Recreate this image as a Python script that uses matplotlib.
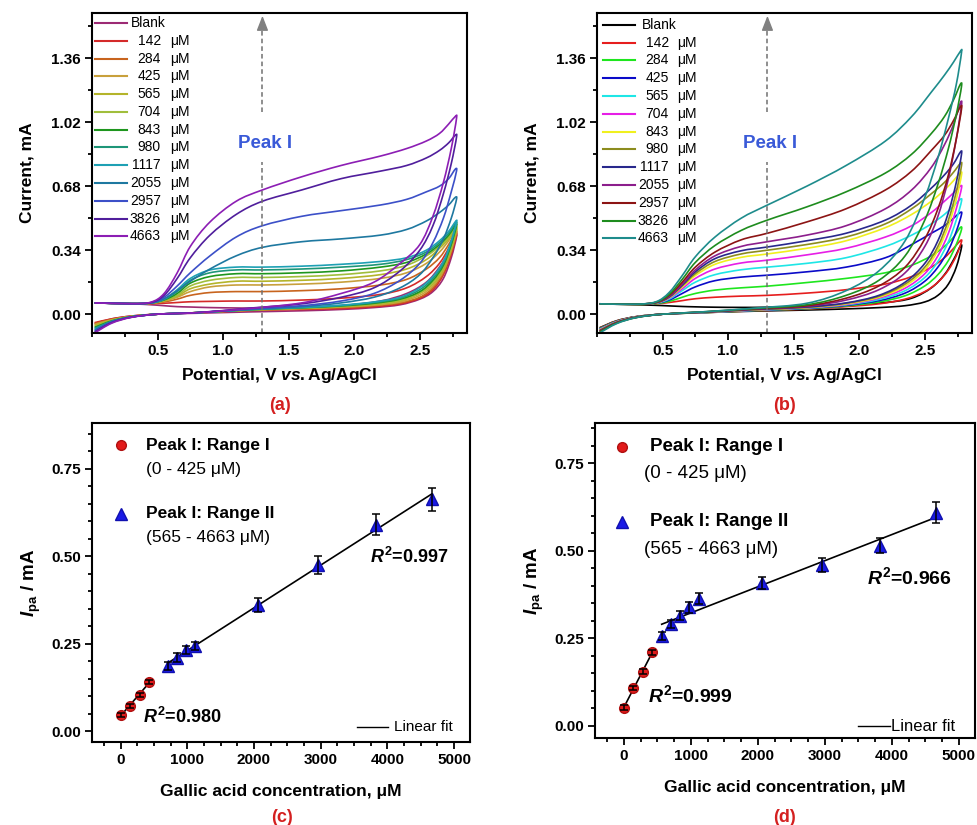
import numpy as np
import matplotlib
matplotlib.use("Agg")
import matplotlib.pyplot as plt
from matplotlib.ticker import MultipleLocator
from matplotlib.path import Path
from matplotlib.patches import PathPatch

plt.rcParams['font.family'] = ['Liberation Sans', 'DejaVu Sans']
plt.rcParams['mathtext.fontset'] = 'custom'
plt.rcParams['mathtext.rm'] = 'Liberation Sans:bold'
plt.rcParams['mathtext.it'] = 'Liberation Sans:italic:bold'
plt.rcParams['mathtext.bf'] = 'Liberation Sans:bold'

# ---------------- data ----------------
conc_labels = ["Blank", "142", "284", "425", "565", "704", "843", "980",
               "1117", "2055", "2957", "3826", "4663"]

E_fwd = [0.02, 0.30, 0.45, 0.55, 0.65, 0.75, 0.90, 1.10, 1.30, 1.60, 1.90, 2.20, 2.40, 2.55, 2.65, 2.72, 2.77]
E_rev = [2.78, 2.74, 2.68, 2.60, 2.50, 2.35, 2.15, 1.90, 1.60, 1.20, 0.80, 0.50, 0.30, 0.15, 0.02]

a_fwd = [
    [0.060, 0.055, 0.050, 0.045, 0.040, 0.038, 0.035, 0.033, 0.032, 0.035, 0.045, 0.070, 0.110, 0.170, 0.250, 0.330, 0.410],
    [0.060, 0.056, 0.056, 0.058, 0.062, 0.066, 0.068, 0.070, 0.070, 0.075, 0.085, 0.105, 0.140, 0.200, 0.270, 0.350, 0.420],
    [0.060, 0.056, 0.057, 0.065, 0.080, 0.100, 0.115, 0.120, 0.120, 0.125, 0.135, 0.155, 0.185, 0.240, 0.300, 0.370, 0.430],
    [0.060, 0.056, 0.058, 0.070, 0.090, 0.120, 0.145, 0.155, 0.155, 0.160, 0.170, 0.190, 0.220, 0.270, 0.330, 0.390, 0.440],
    [0.060, 0.056, 0.058, 0.072, 0.095, 0.135, 0.160, 0.175, 0.175, 0.180, 0.190, 0.210, 0.240, 0.290, 0.350, 0.400, 0.450],
    [0.060, 0.056, 0.059, 0.075, 0.100, 0.150, 0.180, 0.195, 0.195, 0.200, 0.210, 0.230, 0.260, 0.310, 0.360, 0.410, 0.460],
    [0.060, 0.056, 0.060, 0.076, 0.110, 0.165, 0.200, 0.215, 0.215, 0.220, 0.230, 0.250, 0.275, 0.320, 0.370, 0.420, 0.470],
    [0.060, 0.056, 0.060, 0.078, 0.120, 0.180, 0.220, 0.235, 0.235, 0.240, 0.250, 0.265, 0.290, 0.330, 0.380, 0.430, 0.480],
    [0.060, 0.056, 0.060, 0.080, 0.130, 0.190, 0.235, 0.250, 0.250, 0.255, 0.265, 0.280, 0.300, 0.340, 0.390, 0.440, 0.490],
    [0.060, 0.056, 0.060, 0.082, 0.125, 0.175, 0.240, 0.310, 0.355, 0.385, 0.400, 0.420, 0.450, 0.495, 0.540, 0.580, 0.620],
    [0.060, 0.056, 0.060, 0.090, 0.150, 0.220, 0.310, 0.410, 0.470, 0.520, 0.550, 0.580, 0.610, 0.650, 0.680, 0.720, 0.770],
    [0.060, 0.056, 0.062, 0.100, 0.190, 0.300, 0.420, 0.530, 0.600, 0.660, 0.720, 0.760, 0.790, 0.830, 0.870, 0.910, 0.950],
    [0.060, 0.056, 0.064, 0.110, 0.220, 0.360, 0.490, 0.600, 0.660, 0.730, 0.790, 0.840, 0.880, 0.920, 0.960, 1.010, 1.050],
]
a_rev = [
    [0.410, 0.300, 0.190, 0.120, 0.080, 0.050, 0.035, 0.025, 0.018, 0.012, 0.005, 0.000, -0.010, -0.025, -0.050],
    [0.420, 0.320, 0.210, 0.130, 0.085, 0.055, 0.040, 0.030, 0.025, 0.020, 0.008, 0.000, -0.010, -0.025, -0.045],
    [0.430, 0.330, 0.220, 0.140, 0.090, 0.060, 0.045, 0.035, 0.028, 0.020, 0.008, 0.000, -0.012, -0.028, -0.050],
    [0.440, 0.340, 0.230, 0.150, 0.100, 0.065, 0.048, 0.038, 0.030, 0.022, 0.008, 0.000, -0.012, -0.030, -0.055],
    [0.450, 0.350, 0.240, 0.160, 0.110, 0.070, 0.052, 0.040, 0.032, 0.022, 0.008, 0.000, -0.013, -0.032, -0.060],
    [0.460, 0.360, 0.250, 0.170, 0.115, 0.075, 0.055, 0.042, 0.033, 0.023, 0.008, 0.000, -0.013, -0.034, -0.065],
    [0.470, 0.370, 0.260, 0.180, 0.120, 0.080, 0.058, 0.044, 0.034, 0.024, 0.008, 0.000, -0.014, -0.036, -0.070],
    [0.480, 0.380, 0.270, 0.190, 0.130, 0.085, 0.062, 0.046, 0.035, 0.024, 0.008, 0.000, -0.014, -0.038, -0.075],
    [0.490, 0.390, 0.280, 0.200, 0.140, 0.090, 0.065, 0.048, 0.036, 0.025, 0.008, 0.000, -0.015, -0.040, -0.080],
    [0.610, 0.510, 0.400, 0.300, 0.210, 0.140, 0.090, 0.060, 0.040, 0.025, 0.008, 0.000, -0.015, -0.040, -0.085],
    [0.760, 0.650, 0.510, 0.380, 0.270, 0.180, 0.110, 0.070, 0.045, 0.028, 0.008, 0.000, -0.016, -0.042, -0.090],
    [0.940, 0.800, 0.640, 0.470, 0.340, 0.230, 0.140, 0.090, 0.055, 0.032, 0.008, 0.000, -0.016, -0.045, -0.095],
    [1.040, 0.880, 0.700, 0.520, 0.370, 0.270, 0.170, 0.110, 0.060, 0.030, 0.008, 0.000, -0.017, -0.048, -0.100],
]

b_fwd = [
    [0.055, 0.050, 0.047, 0.044, 0.041, 0.039, 0.037, 0.036, 0.037, 0.042, 0.050, 0.062, 0.085, 0.140, 0.210, 0.290, 0.360],
    [0.055, 0.052, 0.055, 0.062, 0.072, 0.082, 0.090, 0.096, 0.100, 0.112, 0.130, 0.160, 0.200, 0.250, 0.300, 0.350, 0.390],
    [0.055, 0.052, 0.056, 0.068, 0.090, 0.110, 0.128, 0.140, 0.149, 0.168, 0.190, 0.220, 0.260, 0.310, 0.360, 0.410, 0.460],
    [0.055, 0.053, 0.058, 0.075, 0.110, 0.145, 0.178, 0.197, 0.207, 0.225, 0.250, 0.300, 0.370, 0.430, 0.470, 0.510, 0.540],
    [0.055, 0.053, 0.059, 0.080, 0.125, 0.170, 0.210, 0.236, 0.250, 0.270, 0.300, 0.360, 0.420, 0.480, 0.530, 0.575, 0.610],
    [0.055, 0.053, 0.060, 0.085, 0.135, 0.190, 0.240, 0.272, 0.287, 0.315, 0.350, 0.410, 0.470, 0.540, 0.600, 0.645, 0.680],
    [0.055, 0.053, 0.060, 0.088, 0.145, 0.205, 0.265, 0.302, 0.320, 0.350, 0.390, 0.460, 0.530, 0.600, 0.660, 0.710, 0.750],
    [0.055, 0.053, 0.061, 0.090, 0.150, 0.215, 0.280, 0.320, 0.340, 0.370, 0.410, 0.480, 0.560, 0.640, 0.700, 0.755, 0.800],
    [0.055, 0.053, 0.061, 0.092, 0.155, 0.225, 0.295, 0.337, 0.357, 0.390, 0.430, 0.500, 0.580, 0.670, 0.740, 0.800, 0.860],
    [0.055, 0.053, 0.062, 0.095, 0.160, 0.235, 0.310, 0.360, 0.385, 0.420, 0.470, 0.560, 0.660, 0.780, 0.900, 1.010, 1.120],
    [0.055, 0.053, 0.063, 0.100, 0.170, 0.250, 0.330, 0.395, 0.430, 0.490, 0.560, 0.660, 0.760, 0.870, 0.950, 1.030, 1.100],
    [0.055, 0.053, 0.064, 0.105, 0.185, 0.275, 0.365, 0.445, 0.500, 0.570, 0.650, 0.750, 0.850, 0.960, 1.050, 1.140, 1.220],
    [0.055, 0.053, 0.066, 0.115, 0.205, 0.305, 0.410, 0.510, 0.580, 0.680, 0.790, 0.920, 1.050, 1.180, 1.270, 1.340, 1.395],
]
b_rev = [
    [0.355, 0.250, 0.160, 0.100, 0.065, 0.045, 0.035, 0.028, 0.022, 0.016, 0.008, 0.000, -0.013, -0.035, -0.072],
    [0.385, 0.310, 0.235, 0.170, 0.120, 0.080, 0.055, 0.040, 0.027, 0.018, 0.008, 0.000, -0.013, -0.036, -0.074],
    [0.450, 0.370, 0.285, 0.210, 0.150, 0.098, 0.065, 0.044, 0.029, 0.019, 0.008, 0.000, -0.014, -0.038, -0.076],
    [0.530, 0.440, 0.340, 0.250, 0.175, 0.112, 0.072, 0.047, 0.031, 0.020, 0.009, 0.000, -0.014, -0.039, -0.078],
    [0.600, 0.500, 0.385, 0.280, 0.195, 0.125, 0.078, 0.050, 0.033, 0.021, 0.009, 0.000, -0.015, -0.040, -0.080],
    [0.670, 0.560, 0.430, 0.310, 0.215, 0.138, 0.085, 0.052, 0.034, 0.022, 0.009, 0.000, -0.015, -0.041, -0.082],
    [0.740, 0.610, 0.470, 0.340, 0.235, 0.150, 0.090, 0.055, 0.035, 0.023, 0.010, 0.000, -0.015, -0.042, -0.084],
    [0.790, 0.650, 0.500, 0.360, 0.250, 0.160, 0.095, 0.058, 0.036, 0.024, 0.010, 0.000, -0.016, -0.043, -0.086],
    [0.850, 0.700, 0.540, 0.390, 0.270, 0.170, 0.100, 0.060, 0.038, 0.025, 0.010, 0.000, -0.016, -0.044, -0.088],
    [1.110, 0.930, 0.720, 0.520, 0.360, 0.220, 0.130, 0.075, 0.042, 0.027, 0.011, 0.000, -0.017, -0.045, -0.090],
    [1.090, 0.930, 0.740, 0.560, 0.400, 0.250, 0.150, 0.085, 0.045, 0.028, 0.011, 0.000, -0.017, -0.046, -0.092],
    [1.210, 1.060, 0.880, 0.690, 0.500, 0.310, 0.180, 0.100, 0.050, 0.030, 0.012, 0.000, -0.018, -0.048, -0.095],
    [1.390, 1.220, 1.040, 0.830, 0.620, 0.390, 0.230, 0.125, 0.058, 0.032, 0.012, 0.000, -0.018, -0.050, -0.100],
]

a_colors = ['#9c2a74', '#d42a2a', '#c8641e', '#c8a03c', '#b4b42a', '#a0be3c', '#1e961e',
            '#1e9678', '#1ea0b4', '#1e78a0', '#3c50c8', '#501e9c', '#8c1eb4']
b_colors = ['#000000', '#e61e1e', '#1ee61e', '#0a0ac8', '#1ee6e6', '#e61ee6', '#f0f01e',
            '#8c8c1e', '#28288c', '#8c1e8c', '#8c1414', '#1e8c1e', '#1e8c8c']

# calibration plots
c_x1 = [0, 142, 284, 425]
c_y1 = [0.048, 0.072, 0.105, 0.141]
c_e1 = [0.006, 0.006, 0.006, 0.006]
c_x2 = [704, 843, 980, 1117, 2055, 2957, 3826, 4663]
c_y2 = [0.187, 0.211, 0.232, 0.244, 0.361, 0.474, 0.590, 0.662]
c_e2 = [0.012, 0.012, 0.012, 0.012, 0.020, 0.026, 0.030, 0.034]

d_x1 = [0, 142, 284, 425]
d_y1 = [0.051, 0.108, 0.155, 0.210]
d_e1 = [0.007, 0.007, 0.007, 0.007]
d_x2 = [565, 704, 843, 980, 1117, 2055, 2957, 3826, 4663]
d_y2 = [0.257, 0.291, 0.314, 0.338, 0.363, 0.408, 0.458, 0.515, 0.608]
d_e2 = [0.012, 0.012, 0.013, 0.015, 0.015, 0.017, 0.020, 0.022, 0.030]

# ---------------- figure ----------------
W, H = 978, 825
fig = plt.figure(figsize=(W / 100, H / 100), dpi=100)


def px_axes(l, t, r, b):
    return fig.add_axes([l / W, 1 - b / H, (r - l) / W, (b - t) / H])


def style_axes(ax):
    for s in ax.spines.values():
        s.set_linewidth(1.5)
    ax.tick_params(which='both', direction='out', top=False, right=False, width=1.3)
    ax.tick_params(which='major', length=5, labelsize=11, pad=3)
    ax.tick_params(which='minor', length=3)
    for lab in ax.get_xticklabels() + ax.get_yticklabels():
        lab.set_fontweight('bold')


def smooth_path(xs, ys):
    """Smooth Bezier path through the read knots (drawing only)."""
    P = np.column_stack([xs, ys]).astype(float)
    n = len(P)
    verts = [P[0]]
    codes = [Path.MOVETO]
    for i in range(n - 1):
        p0 = P[i - 1] if i > 0 else P[i]
        p1, p2 = P[i], P[i + 1]
        p3 = P[i + 2] if i + 2 < n else P[i + 1]
        c1 = p1 + (p2 - p0) / 6.0
        c2 = p2 - (p3 - p1) / 6.0
        verts += [c1, c2, p2]
        codes += [Path.CURVE4] * 3
    return Path(verts, codes)


def cv_panel(ax, fwd, rev, colors, peak_x, leg_geom):
    for i in range(len(fwd)):
        x = list(E_fwd) + list(E_rev)
        y = list(fwd[i]) + list(rev[i])
        ax.add_patch(PathPatch(smooth_path(x, y), fill=False, edgecolor=colors[i],
                               lw=1.2, joinstyle='round'))
    ax.set_xlim(0.0, 2.86)
    ax.set_ylim(-0.10, 1.60)
    ax.set_xticks([0.5, 1.0, 1.5, 2.0, 2.5])
    ax.xaxis.set_minor_locator(MultipleLocator(0.25))
    ax.set_yticks([0.0, 0.34, 0.68, 1.02, 1.36])
    ax.yaxis.set_minor_locator(MultipleLocator(0.17))
    ax.set_yticklabels(['0.00', '0.34', '0.68', '1.02', '1.36'])
    style_axes(ax)
    ax.set_ylabel('Current, mA', fontsize=12.5, fontweight='bold', labelpad=12)
    ax.set_xlabel(r'Potential, V $vs.$Ag/AgCl', fontsize=12.5, fontweight='bold', labelpad=6)
    # Peak I marker
    ax.plot([peak_x, peak_x], [-0.10, 0.81], color='#707070', lw=1.1, ls=(0, (3, 2)))
    ax.plot([peak_x, peak_x], [1.075, 1.52], color='#707070', lw=1.1, ls=(0, (3, 2)))
    ax.annotate('', xy=(peak_x, 1.60), xytext=(peak_x, 1.51),
                arrowprops=dict(arrowstyle='-|>,head_width=0.35,head_length=0.9',
                                color='#808080', lw=1.0))
    ax.text(peak_x + 0.02, 0.905, 'Peak I', color='#3a5ad8', fontsize=13.5,
            fontweight='bold', ha='center', va='center')
    # legend
    x0, x1, xt, xn, xu, y0, dy = leg_geom
    for i, lab in enumerate(conc_labels):
        yy = y0 - i * dy
        ax.plot([x0, x1], [yy, yy], color=colors[i], lw=1.5, transform=ax.transAxes)
        if lab == 'Blank':
            ax.text(xt, yy, lab, transform=ax.transAxes, fontsize=10, va='center', ha='left')
        else:
            ax.text(xn, yy, lab, transform=ax.transAxes, fontsize=10, va='center', ha='right')
            ax.text(xu, yy, 'μM', transform=ax.transAxes, fontsize=10, va='center', ha='left')


def cal_panel(ax, x1, y1, e1, x2, y2, e2, ylim, geom, fs):
    for xs, ys in ((x1, y1), (x2, y2)):
        k, b0 = np.polyfit(xs, ys, 1)
        xx = np.array([xs[0], xs[-1]])
        ax.plot(xx, k * xx + b0, color='black', lw=1.2, zorder=2)
    ax.plot(x1, y1, 'o', color='#e21a1a', mec='#b01010', ms=7, zorder=3)
    ax.plot(x2, y2, '^', color='#1a1ae6', mec='#1010b0', ms=8, zorder=3)
    ax.errorbar(x1, y1, yerr=e1, fmt='none', ecolor='black', elinewidth=1.1, capsize=3, capthick=1.1, zorder=4)
    ax.errorbar(x2, y2, yerr=e2, fmt='none', ecolor='black', elinewidth=1.1, capsize=3, capthick=1.1, zorder=4)
    ax.set_xlim(-430, 5240)
    ax.set_ylim(*ylim)
    ax.set_xticks([0, 1000, 2000, 3000, 4000, 5000])
    ax.xaxis.set_minor_locator(MultipleLocator(250))
    ax.set_yticks([0.0, 0.25, 0.50, 0.75])
    ax.set_yticklabels(['0.00', '0.25', '0.50', '0.75'])
    ax.yaxis.set_minor_locator(MultipleLocator(0.05))
    style_axes(ax)
    ax.set_ylabel(r'$I_{\rm pa}$ / mA', fontsize=13.5, fontweight='bold', labelpad=6)
    ax.set_xlabel('Gallic acid concentration, μM', fontsize=12.5, fontweight='bold', labelpad=12)
    (mx, tx, tx2, yA, yA2, yB, yB2, r1, r2, lf) = geom
    t = ax.transAxes
    ax.plot([mx], [yA], 'o', color='#e21a1a', mec='#b01010', ms=7, transform=t)
    ax.plot([mx], [yB], '^', color='#1a1ae6', mec='#1010b0', ms=8, transform=t)
    ax.text(tx, yA, 'Peak I: Range I', transform=t, fontsize=fs, fontweight='bold', va='center')
    ax.text(tx2, yA2, '(0 - 425 μM)', transform=t, fontsize=fs, va='center')
    ax.text(tx, yB, 'Peak I: Range II', transform=t, fontsize=fs, fontweight='bold', va='center')
    ax.text(tx2, yB2, '(565 - 4663 μM)', transform=t, fontsize=fs, va='center')
    ax.text(r1[0], r1[1], r1[2], transform=t, fontsize=fs + 0.5, fontweight='bold', va='center')
    ax.text(r2[0], r2[1], r2[2], transform=t, fontsize=fs + 0.5, fontweight='bold', va='center')
    ax.plot([lf[0], lf[1]], [lf[3], lf[3]], color='black', lw=1.0, transform=t)
    ax.text(lf[2], lf[3], 'Linear fit', transform=t, fontsize=fs - 1.5, va='center')


axa = px_axes(92, 13, 467, 333)
cv_panel(axa, a_fwd, a_rev, a_colors, 1.30,
         (0.008, 0.093, 0.104, 0.184, 0.208, 0.969, 0.0556))
axb = px_axes(597, 13, 972, 333)
cv_panel(axb, b_fwd, b_rev, b_colors, 1.30,
         (0.016, 0.101, 0.12, 0.192, 0.213, 0.963, 0.0556))

axc = px_axes(92, 423, 470, 742)
cal_panel(axc, c_x1, c_y1, c_e1, c_x2, c_y2, c_e2, (-0.03, 0.88),
          (0.077, 0.143, 0.143, 0.931, 0.853, 0.715, 0.640,
           (0.135, 0.078, r'$R^2$=0.980'), (0.735, 0.58, r'$R^2$=0.997'),
           (0.701, 0.783, 0.80, 0.047)), 12.5)
axd = px_axes(595, 423, 975, 738)
cal_panel(axd, d_x1, d_y1, d_e1, d_x2, d_y2, d_e2, (-0.035, 0.865),
          (0.071, 0.145, 0.129, 0.924, 0.841, 0.686, 0.600,
           (0.139, 0.137, r'$R^2$=0.999'), (0.716, 0.511, r'$R^2$=0.966'),
           (0.692, 0.776, 0.78, 0.038)), 13.5)

for lab, x, y in (('(a)', 280, 405), ('(b)', 785, 405), ('(c)', 282, 817), ('(d)', 785, 817)):
    fig.text(x / W, 1 - y / H, lab, color='#d42020', fontsize=13, fontweight='bold',
             ha='center', va='center')

fig.savefig('out.png', dpi=100)
